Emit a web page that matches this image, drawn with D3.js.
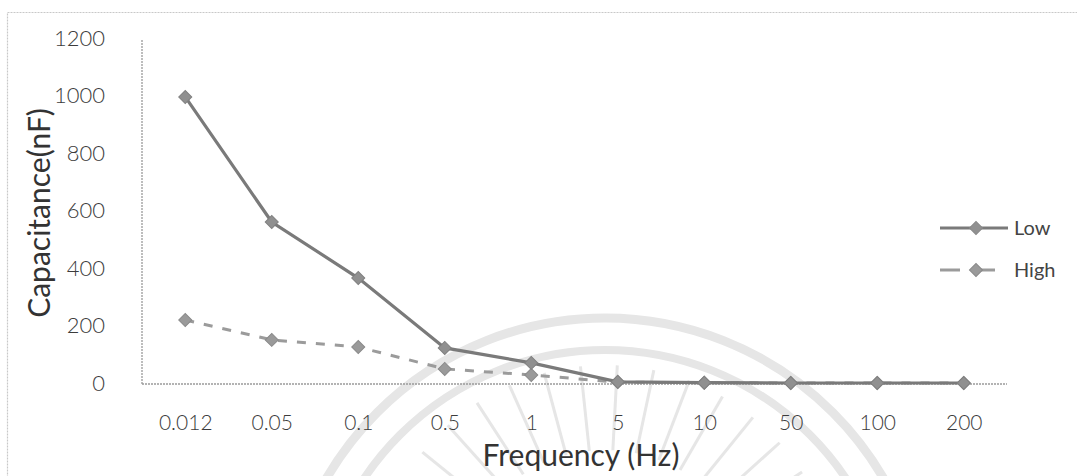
<!DOCTYPE html>
<html>
<head>
<meta charset="utf-8">
<script src="https://cdn.jsdelivr.net/npm/d3@7"></script>
<style>
  html, body { margin: 0; padding: 0; background: #ffffff; }
  svg { display: block; font-family: Lato, "Open Sans", sans-serif; }
</style>
</head>
<body>
<svg id="chart" width="1077" height="476"></svg>
<script>
const categories = ["0.012", "0.05", "0.1", "0.5", "1", "5", "10", "50", "100", "200"];
const lowValues  = [995, 560, 365, 122, 70, 4, 1, 0, 0, 0];
const highValues = [219, 150, 125, 49, 28, 3, 1, 0, 0, 0];
const yTicks = [0, 200, 400, 600, 800, 1000, 1200];
const seriesNames = ["Low", "High"];

const svg = d3.select("#chart");

// outer frame (scanned figure border)
svg.append("rect")
  .attr("x", 7.5).attr("y", 12.5).attr("width", 1080).attr("height", 480)
  .attr("fill", "none").attr("stroke", "#c8c8c8").attr("stroke-width", 1.2)
  .attr("stroke-dasharray", "2,1");

// faint watermark arcs
const wm = svg.append("g").attr("fill", "none").attr("stroke", "#e6e6e6");
wm.append("circle").attr("cx", 605).attr("cy", 640).attr("r", 322).attr("stroke-width", 9);
wm.append("circle").attr("cx", 605).attr("cy", 640).attr("r", 290).attr("stroke-width", 8);
for (let a = -150; a <= -30; a += 9) {
  const r = a * Math.PI / 180;
  wm.append("line")
    .attr("x1", 605 + 150 * Math.cos(r)).attr("y1", 600 + 150 * Math.sin(r))
    .attr("x2", 605 + 235 * Math.cos(r)).attr("y2", 600 + 235 * Math.sin(r))
    .attr("stroke-width", 3);
}

const x = d3.scalePoint().domain(categories).range([142, 1007]).padding(0.5);
const y = d3.scaleLinear().domain([0, 1200]).range([383, 38]);

// axes lines
svg.append("line").attr("x1", 142).attr("x2", 142).attr("y1", 40).attr("y2", 384)
  .attr("stroke", "#9a9a9a").attr("stroke-width", 1.3).attr("stroke-dasharray", "2,1");
svg.append("line").attr("x1", 142).attr("x2", 1007).attr("y1", 384).attr("y2", 384)
  .attr("stroke", "#9a9a9a").attr("stroke-width", 1.3).attr("stroke-dasharray", "2,1");

// y axis labels via d3 axis
const yAxis = d3.axisLeft(y).tickValues(yTicks).tickFormat(d3.format("d")).tickSize(0).tickPadding(0);
const gy = svg.append("g").attr("transform", "translate(105,0)").call(yAxis);
gy.select(".domain").remove();
gy.selectAll("text").attr("font-size", 22).attr("font-weight", 300).attr("fill", "#3c3c3c").attr("font-family", "Lato, sans-serif");

const xAxis = d3.axisBottom(x).tickSize(0).tickPadding(0);
const gx = svg.append("g").attr("transform", "translate(0,415)").call(xAxis);
gx.select(".domain").remove();
gx.selectAll("text").attr("font-size", 21).attr("font-weight", 300).attr("fill", "#3c3c3c").attr("font-family", "Lato, sans-serif");

// titles
svg.append("text").attr("x", 581).attr("y", 466).attr("text-anchor", "middle")
  .attr("font-size", 30).attr("fill", "#333").text("Frequency (Hz)");
svg.append("text").attr("transform", "translate(50,213) rotate(-90)").attr("text-anchor", "middle")
  .attr("font-size", 30).attr("fill", "#333").text("Capacitance(nF)");

const line = d3.line().x((d, i) => x(categories[i])).y(d => y(d));
const diamond = d3.symbol().type(d3.symbolSquare).size(85);

// High series (dashed)
svg.append("path").datum(highValues).attr("d", line)
  .attr("fill", "none").attr("stroke", "#9b9b9b").attr("stroke-width", 3)
  .attr("stroke-dasharray", "9,10");
svg.append("g").selectAll("path").data(highValues).join("path")
  .attr("d", diamond)
  .attr("transform", (d, i) => `translate(${x(categories[i])},${y(d)}) rotate(45)`)
  .attr("fill", "#9a9a9a").attr("stroke", "#8a8a8a").attr("stroke-width", 1);

// Low series (solid)
svg.append("path").datum(lowValues).attr("d", line)
  .attr("fill", "none").attr("stroke", "#7a7a7a").attr("stroke-width", 3.2);
svg.append("g").selectAll("path").data(lowValues).join("path")
  .attr("d", diamond)
  .attr("transform", (d, i) => `translate(${x(categories[i])},${y(d)}) rotate(45)`)
  .attr("fill", "#909090").attr("stroke", "#808080").attr("stroke-width", 1);

// legend
const legY = [228, 270];
const lg = svg.append("g");
seriesNames.forEach((name, i) => {
  const yy = legY[i];
  lg.append("line").attr("x1", 940).attr("x2", 1008).attr("y1", yy).attr("y2", yy)
    .attr("stroke", i === 0 ? "#7a7a7a" : "#9b9b9b").attr("stroke-width", 3)
    .attr("stroke-dasharray", i === 0 ? null : "20,15");
  lg.append("path").attr("d", diamond)
    .attr("transform", `translate(976,${yy}) rotate(45)`)
    .attr("fill", i === 0 ? "#909090" : "#9a9a9a").attr("stroke", "#888");
  lg.append("text").attr("x", 1014).attr("y", yy).attr("dy", "0.35em")
    .attr("font-size", 20).attr("fill", "#444").text(name);
});
</script>
</body>
</html>
